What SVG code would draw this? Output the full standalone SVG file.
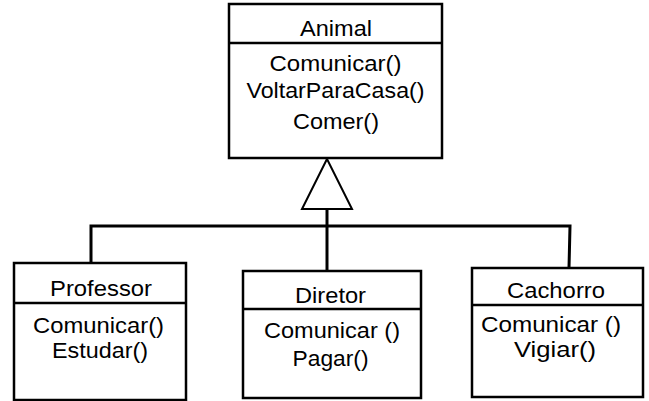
<svg xmlns="http://www.w3.org/2000/svg" width="649" height="401" viewBox="0 0 649 401">
<style>
.box{fill:#fff;stroke:#000;stroke-width:2.5}
.div{stroke:#000;stroke-width:2.5}
.t{font-family:"Liberation Sans",Arial,sans-serif;font-size:22px;fill:#000;text-anchor:middle}
.c{fill:none;stroke:#000;stroke-width:3}
.tri{fill:#fff;stroke:#000;stroke-width:2}
</style>
<rect width="649" height="401" fill="#fff"/>
<g id="connectors">
<path class="c" d="M91,263 V226 H570 L569,268"/>
<path class="c" d="M327,209 V271"/>
<polygon class="tri" points="327,159 302,209 352,209"/>
</g>
<g id="animal">
<rect class="box" x="229" y="4" width="213" height="154"/>
<line class="div" x1="229" y1="43" x2="442" y2="43"/>
<text class="t" x="336" y="36" textLength="72" lengthAdjust="spacingAndGlyphs">Animal</text>
<text class="t" x="335.5" y="71" textLength="132" lengthAdjust="spacingAndGlyphs">Comunicar()</text>
<text class="t" x="335.5" y="98" textLength="178" lengthAdjust="spacingAndGlyphs">VoltarParaCasa()</text>
<text class="t" x="336" y="129" textLength="86" lengthAdjust="spacingAndGlyphs">Comer()</text>
</g>
<g id="professor">
<rect class="box" x="14" y="263" width="172" height="137"/>
<line class="div" x1="14" y1="303" x2="186" y2="303"/>
<text class="t" x="101" y="296" textLength="102" lengthAdjust="spacingAndGlyphs">Professor</text>
<text class="t" x="98.5" y="333" textLength="131" lengthAdjust="spacingAndGlyphs">Comunicar()</text>
<text class="t" x="100" y="358" textLength="96" lengthAdjust="spacingAndGlyphs">Estudar()</text>
</g>
<g id="diretor">
<rect class="box" x="243" y="271" width="178" height="127"/>
<line class="div" x1="243" y1="309" x2="421" y2="309"/>
<text class="t" x="330.5" y="303" textLength="71" lengthAdjust="spacingAndGlyphs">Diretor</text>
<text class="t" x="332" y="338" textLength="136" lengthAdjust="spacingAndGlyphs">Comunicar ()</text>
<text class="t" x="330.5" y="366" textLength="76" lengthAdjust="spacingAndGlyphs">Pagar()</text>
</g>
<g id="cachorro">
<rect class="box" x="472" y="268" width="171" height="129"/>
<line class="div" x1="472" y1="305" x2="643" y2="305"/>
<text class="t" x="556" y="298" textLength="98" lengthAdjust="spacingAndGlyphs">Cachorro</text>
<text class="t" x="551" y="332" textLength="140" lengthAdjust="spacingAndGlyphs">Comunicar ()</text>
<text class="t" x="555" y="357" textLength="82" lengthAdjust="spacingAndGlyphs">Vigiar()</text>
</g>
</svg>
